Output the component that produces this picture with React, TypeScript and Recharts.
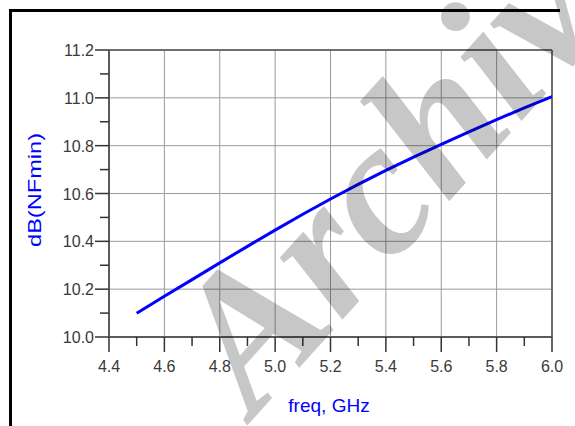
import { LineChart, Line, XAxis, YAxis, ReferenceLine } from 'recharts';

// NFmin vs frequency
const freqs = [4.5, 4.6, 4.7, 4.8, 4.9, 5.0, 5.1, 5.2, 5.3, 5.4, 5.5, 5.6, 5.7, 5.8, 5.9, 6.0];
const nfMin = [10.099, 10.17, 10.24, 10.31, 10.379, 10.447, 10.513, 10.577, 10.638, 10.697, 10.752, 10.805, 10.858, 10.909, 10.958, 11.005];

const xMajorTicks = [4.4, 4.6, 4.8, 5.0, 5.2, 5.4, 5.6, 5.8, 6.0];
const xMinorTicks = [4.5, 4.7, 4.9, 5.1, 5.3, 5.5, 5.7, 5.9];
const yMajorTicks = [10.0, 10.2, 10.4, 10.6, 10.8, 11.0, 11.2];
const yMinorTicks = [10.1, 10.3, 10.5, 10.7, 10.9, 11.1];

const data = freqs.map((f, i) => ({ freq: f, nf: nfMin[i] }));

const isMajor = (list: number[], v: number) => list.some((m) => Math.abs(m - v) < 1e-6);

const labelStyle = { fontFamily: '"Liberation Sans", Arial, sans-serif', fontSize: 16, fill: '#3a3a3a' };

const XTick = ({ x, y, payload }: any) => {
  const major = isMajor(xMajorTicks, payload.value);
  return (
    <g>
      <line x1={x} x2={x} y1={y} y2={y + (major ? 15 : 9)} stroke="#333" strokeWidth={1.5} />
      {major && (
        <text x={x} y={y + 35} textAnchor="middle" {...labelStyle}>
          {payload.value.toFixed(1)}
        </text>
      )}
    </g>
  );
};

const YTick = ({ x, y, payload }: any) => {
  const major = isMajor(yMajorTicks, payload.value);
  return (
    <g>
      <line x1={x - (major ? 14 : 9)} x2={x} y1={y} y2={y} stroke="#333" strokeWidth={1.5} />
      {major && (
        <text x={x - 15} y={y + 6} textAnchor="end" {...labelStyle}>
          {payload.value.toFixed(1)}
        </text>
      )}
    </g>
  );
};

const App = () => {
  return (
    <div style={{ position: 'absolute', left: 0, top: 0, width: 575, height: 426, background: '#fff', overflow: 'hidden' }}>
      <div
        style={{
          position: 'absolute',
          left: 9,
          top: 9,
          width: 548,
          height: 430,
          borderTop: '3px solid #000',
          borderLeft: '3px solid #000',
        }}
      />
      <LineChart
        width={575}
        height={426}
        data={data}
        margin={{ top: 50, right: 23, bottom: 49, left: 49 }}
        style={{ position: 'absolute', left: 0, top: 0 }}
      >
        {xMajorTicks.slice(1, -1).map((v) => (
          <ReferenceLine key={'vx' + v} x={v} stroke="#9a9a9a" strokeWidth={1} />
        ))}
        {yMajorTicks.slice(1, -1).map((v) => (
          <ReferenceLine key={'hy' + v} y={v} stroke="#9a9a9a" strokeWidth={1} />
        ))}
        <ReferenceLine y={11.2} stroke="#6e6e6e" strokeWidth={2} />
        <ReferenceLine x={6.0} stroke="#6e6e6e" strokeWidth={2} />
        <XAxis
          dataKey="freq"
          type="number"
          domain={[4.4, 6.0]}
          ticks={[...xMajorTicks, ...xMinorTicks].sort((a, b) => a - b)}
          interval={0}
          height={40}
          tickSize={0}
          tickMargin={0}
          tickLine={false}
          tick={<XTick />}
          axisLine={{ stroke: '#5a5a5a', strokeWidth: 2 }}
          allowDataOverflow
        />
        <YAxis
          type="number"
          domain={[10.0, 11.2]}
          ticks={[...yMajorTicks, ...yMinorTicks].sort((a, b) => a - b)}
          interval={0}
          width={60}
          tickSize={0}
          tickMargin={0}
          tickLine={false}
          tick={<YTick />}
          axisLine={{ stroke: '#5a5a5a', strokeWidth: 2 }}
          allowDataOverflow
        />
        <Line
          type="linear"
          dataKey="nf"
          stroke="#0000ff"
          strokeWidth={3}
          dot={false}
          isAnimationActive={false}
        />
      </LineChart>
      <svg width={575} height={426} style={{ position: 'absolute', left: 0, top: 0, pointerEvents: 'none' }}>
        <text
          transform="translate(41,190) rotate(-90)"
          textAnchor="middle"
          textLength={114}
          lengthAdjust="spacingAndGlyphs"
          style={{ fontFamily: '"Liberation Sans", Arial, sans-serif', fontSize: 19, fill: '#0000ff' }}
        >
          dB(NFmin)
        </text>
        <text
          x={329}
          y={412}
          textAnchor="middle"
          style={{ fontFamily: '"Liberation Sans", Arial, sans-serif', fontSize: 19, fill: '#0000ff' }}
        >
          freq, GHz
        </text>
        <text
          transform="translate(254,418) rotate(-48)"
          style={{
            fontFamily: '"Liberation Serif", "Times New Roman", serif',
            fontWeight: 'bold',
            fontStyle: 'italic',
            fontSize: 192,
            fill: '#000',
            fillOpacity: 0.22,
          }}
        >
          Archive
        </text>
      </svg>
    </div>
  );
};

export default App;
